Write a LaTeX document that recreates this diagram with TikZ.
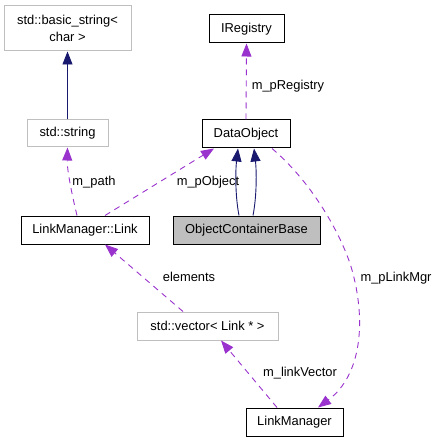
\documentclass[tikz,border=0pt]{standalone}
\usepackage{fontspec}
\setmainfont{Liberation Sans}
\usetikzlibrary{arrows.meta}
\definecolor{dep}{HTML}{9A32CD}
\definecolor{inh}{HTML}{191970}
\definecolor{gbord}{HTML}{BFBFBF}
\begin{document}
\begin{tikzpicture}[x=1pt,y=-1pt,
  every node/.style={font=\fontsize{12.9}{17}\selectfont, inner sep=0pt, align=center},
  cls/.style={draw=black, line width=1pt, fill=white},
  ext/.style={draw=gbord, line width=1pt, fill=white},
  depline/.style={draw=dep, line width=0.9pt, dash pattern=on 6pt off 5pt, -{Triangle[length=13pt,width=10pt]}},
  inhline/.style={draw=inh, line width=0.9pt, -{Triangle[length=13pt,width=10pt]}},
  lbl/.style={fill=none}]
\useasboundingbox (0,0) rectangle (437,443);
\node[ext, minimum width=127pt, minimum height=45pt] (bs) at (67.5,28.5) {std::basic\_string<\\char >};
\node[cls, minimum width=75pt, minimum height=28pt] (ireg) at (246.5,29) {IRegistry};
\node[ext, minimum width=81pt, minimum height=27pt] (str) at (67.5,133.5) {std::string};
\node[cls, minimum width=88pt, minimum height=28pt] (dobj) at (246,134) {DataObject};
\node[cls, minimum width=128pt, minimum height=28pt] (link) at (85,230) {LinkManager::Link};
\node[cls, fill=gbord, minimum width=147pt, minimum height=28pt] (ocb) at (246.5,230) {ObjectContainerBase};
\node[ext, minimum width=141pt, minimum height=28pt] (vec) at (207.5,326) {std::vector< Link * >};
\node[cls, minimum width=97pt, minimum height=28pt] (lm) at (294.5,422) {LinkManager};

\draw[inhline] (str.north) -- (bs.south);
\draw[depline] (dobj.north) -- (ireg.south);
\draw[depline] ([xshift=-8pt]link.north) .. controls (72,195) and (67,170) .. (str.south);
\draw[depline] ([xshift=20pt]link.north) -- ([xshift=-32pt]dobj.south);
\draw[inhline] ([xshift=-7.5pt]ocb.north) .. controls (235,195) and (235.5,170) .. ([xshift=-8pt]dobj.south);
\draw[inhline] ([xshift=6.5pt]ocb.north) .. controls (257,195) and (256.5,170) .. ([xshift=8pt]dobj.south);
\draw[depline] ([xshift=26pt]dobj.south) .. controls (315,185) and (343.6,240) .. (352,270)
   .. controls (366,320) and (362,375) .. ([xshift=23.5pt]lm.north);
\draw[depline] ([xshift=-24.5pt]vec.north) -- ([xshift=20pt]link.south);
\draw[depline] ([xshift=-17.5pt]lm.north) -- ([xshift=13.5pt]vec.south);

\node[lbl] (l1) at (288,86) {m\_pRegistry};
\node[lbl] (l2) at (94,182) {m\_path};
\node[lbl] (l3) at (208,182) {m\_pObject};
\node[lbl] (l4) at (189,277) {elements};
\node[lbl] (l5) at (396,278) {m\_pLinkMgr};
\node[lbl] (l6) at (300,373) {m\_linkVector};
\end{tikzpicture}
\end{document}
